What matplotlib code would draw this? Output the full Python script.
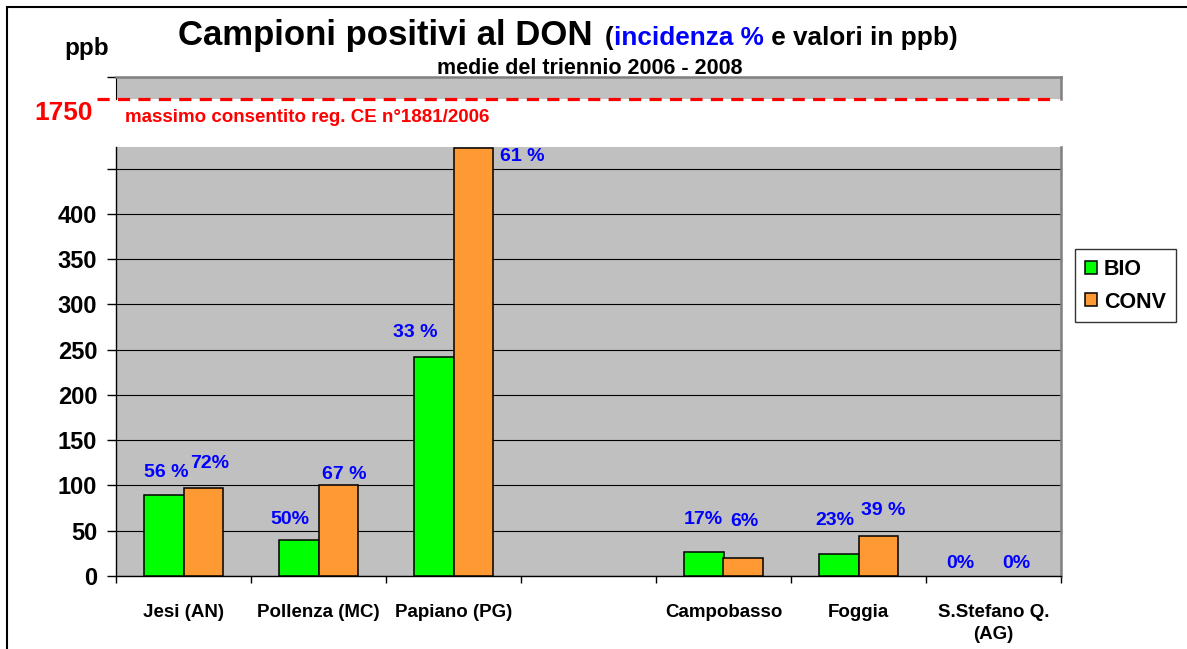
import matplotlib.pyplot as plt
from matplotlib.patches import Patch, Rectangle

plt.rcParams['font.family'] = ['Liberation Sans', 'DejaVu Sans']
plt.rcParams['font.weight'] = 'bold'

categories = ["Jesi (AN)", "Pollenza (MC)", "Papiano (PG)", "", "Campobasso", "Foggia", "S.Stefano Q.\n(AG)"]
bio_ppb = [90, 40, 242, 0, 26, 24, 0]
conv_ppb = [97, 100, 473, 0, 20, 44, 0]
bio_pct = ["56 %", "50%", "33 %", "", "17%", "23%", "0%"]
conv_pct = ["72%", "67 %", "61 %", "", "6%", "39 %", "0%"]
limit_ppb = 1750
yticks = [0, 50, 100, 150, 200, 250, 300, 350, 400, 450]

# label offsets in pixels from the top centre of each bar
bio_off = [(2, 22), (-9, 20), (-19, 24), (0, 0), (-1, 33), (-4, 34), (-14, 13)]
conv_off = [(7, 25), (6, 11), (49, -9), (0, 0), (1, 36), (5, 26), (3, 13)]

W, H = 1187, 649
fig = plt.figure(figsize=(W / 100, H / 100), dpi=100)

GRAY = "#C0C0C0"
GREEN = "#00FF00"
ORANGE = "#FF9933"
BLUE = "#0000FF"
RED = "#FF0000"

left, right = 116 / W, 1061 / W
ax = fig.add_axes([left, 1 - 576 / H, right - left, (576 - 147) / H])
ax_top = fig.add_axes([left, 1 - 99 / H, right - left, (99 - 77) / H])

x = list(range(len(categories)))
bw = 0.29
ax.set_facecolor(GRAY)
# only bars with a value are drawn (zero bars would leave an edge line on the axis)
bx = [i for i in x if bio_ppb[i] > 0]
cx = [i for i in x if conv_ppb[i] > 0]
ax.bar([i - bw / 2 for i in bx], [bio_ppb[i] for i in bx], bw, color=GREEN,
       edgecolor="black", linewidth=1.1, zorder=3)
ax.bar([i + bw / 2 for i in cx], [conv_ppb[i] for i in cx], bw, color=ORANGE,
       edgecolor="black", linewidth=1.1, zorder=3)

for i in x:
    if bio_pct[i]:
        ax.annotate(bio_pct[i], (i - bw / 2, bio_ppb[i]), xytext=bio_off[i], textcoords="offset pixels",
                    ha="center", va="center", color=BLUE, fontsize=14, fontweight="bold", zorder=4)
    if conv_pct[i]:
        ax.annotate(conv_pct[i], (i + bw / 2, conv_ppb[i]), xytext=conv_off[i], textcoords="offset pixels",
                    ha="center", va="center", color=BLUE, fontsize=14, fontweight="bold", zorder=4)

ax.set_xlim(-0.5, len(categories) - 0.5)
ax.set_ylim(0, 474)
ax.set_yticks(yticks)
ax.set_yticklabels([str(v) if v < 450 else "" for v in yticks], fontsize=17, fontweight="bold")
ax.grid(axis="y", color="black", linewidth=0.8, zorder=1)
ax.set_axisbelow(True)
ax.set_xticks(x)
ax.set_xticklabels(categories, fontsize=13.5, fontweight="bold", linespacing=1.4)
ax.set_xticks([i - 0.5 for i in range(len(categories) + 1)], minor=True)
ax.tick_params(axis="x", which="major", length=0, pad=20)
ax.tick_params(axis="x", which="minor", length=5, width=1, direction="out")
ax.tick_params(axis="y", length=6.5, width=1, pad=7, direction="out")
ax.spines["top"].set_visible(False)
ax.spines["right"].set_color("#808080")
ax.spines["right"].set_linewidth(1.8)
ax.spines["left"].set_linewidth(1)
ax.spines["bottom"].set_linewidth(1)

# upper strip with the legal limit
ax_top.set_facecolor(GRAY)
ax_top.set_xlim(-0.5, len(categories) - 0.5)
ax_top.set_ylim(limit_ppb, 1800)
ax_top.set_xticks([])
ax_top.set_yticks([1800])
ax_top.set_yticklabels([""])
ax_top.tick_params(axis="y", length=6.5, width=1, direction="out")
ax_top.spines["bottom"].set_visible(False)
ax_top.spines["top"].set_color("#808080")
ax_top.spines["top"].set_linewidth(1.8)
ax_top.spines["right"].set_color("#808080")
ax_top.spines["right"].set_linewidth(1.8)
ax_top.plot([-0.64, 6.48], [limit_ppb, limit_ppb], color=RED, linewidth=2.3,
            dashes=(3.8, 2.6), clip_on=False, zorder=5)
ax_top.annotate(str(limit_ppb), (0, limit_ppb), xycoords=("axes fraction", "data"),
                xytext=(-23, -2), textcoords="offset pixels", ha="right", va="top",
                color=RED, fontsize=19, fontweight="bold", annotation_clip=False)
ax_top.annotate("massimo consentito reg. CE n°1881/2006", (0, limit_ppb), xycoords=("axes fraction", "data"),
                xytext=(9, -19), textcoords="offset pixels", ha="left", va="center",
                color=RED, fontsize=13.5, fontweight="bold", annotation_clip=False)

# titles
fig.text(178 / W, 1 - 45 / H, "Campioni positivi al DON", fontsize=25, fontweight="bold", va="baseline")
fig.canvas.draw()
r = fig.canvas.get_renderer()
xpos = 605
for txt, col in [("(", "black"), ("incidenza %", BLUE), (" e valori in ppb)", "black")]:
    t = fig.text(xpos / W, 1 - 45 / H, txt, fontsize=18.8, fontweight="bold", color=col, va="baseline")
    xpos += t.get_window_extent(r).width
fig.text(590 / W, 1 - 68 / H, "medie del triennio 2006 - 2008", fontsize=15.5, fontweight="bold",
         ha="center", va="center")
fig.text(87 / W, 1 - 48 / H, "ppb", fontsize=17.5, fontweight="bold", ha="center", va="center")

handles = [Patch(facecolor=GREEN, edgecolor="black", linewidth=1.1, label="BIO"),
           Patch(facecolor=ORANGE, edgecolor="black", linewidth=1.1, label="CONV")]
leg = fig.legend(handles=handles, loc="upper left", bbox_to_anchor=(1075 / W, 1 - 249 / H),
                 prop={"size": 15.5, "weight": "bold"}, frameon=True, fancybox=False,
                 handlelength=0.55, handleheight=0.55, handletextpad=0.35, labelspacing=0.55,
                 borderpad=0.45, borderaxespad=0)
leg.get_frame().set_edgecolor("black")
leg.get_frame().set_linewidth(1)

# outer frame
fig.patches.append(Rectangle((7 / W, -0.1), 1.2, 1.1 - 7 / H, fill=False, edgecolor="black",
                             linewidth=1.5, transform=fig.transFigure, figure=fig))

fig.savefig("out.png", dpi=100)
